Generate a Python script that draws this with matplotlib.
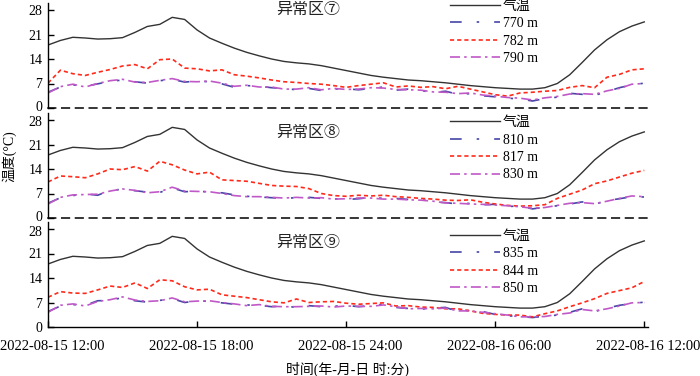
import numpy as np
import matplotlib
matplotlib.use("Agg")
import matplotlib.pyplot as plt
import matplotlib.transforms as mtransforms

plt.rcParams['font.family'] = ['Liberation Serif', 'Noto Sans CJK SC']
plt.rcParams['axes.unicode_minus'] = False

# time in hours since 2022-08-15 12:00, 30-min sampling
hours = np.arange(0, 24.01, 0.5)
tick_hours = [0, 6, 12, 18, 24]
tick_labels = ["2022-08-15 12:00", "2022-08-15 18:00", "2022-08-15 24:00",
               "2022-08-16 06:00", "2022-08-16 12:00"]

air_temp = [18.0, 19.3, 20.2, 20.0, 19.7, 19.8, 20.1, 21.6, 23.3, 23.9,
            25.9, 25.3, 22.3, 20.0, 18.5, 17.1, 15.9, 14.9, 14.0, 13.3,
            12.9, 12.6, 12.1, 11.4, 10.7, 10.0, 9.3, 8.8, 8.4, 8.0,
            7.8, 7.5, 7.2, 6.8, 6.4, 6.1, 5.8, 5.6, 5.4, 5.4,
            5.8, 7.0, 9.5, 13.0, 16.6, 19.5, 21.8, 23.4, 24.6]

# zone 7
z7_770 = [4.5, 6.0, 6.6, 6.2, 6.9, 7.6, 8.0, 7.5, 7.1, 7.8, 8.2, 7.4, 7.7, 7.5, 6.9,
          5.9, 6.4, 6.2, 5.8, 5.6, 5.2, 5.6, 5.0, 5.4, 5.5, 5.2, 5.6, 6.0, 5.1, 5.4,
          5.0, 4.4, 4.8, 3.9, 4.1, 3.5, 3.2, 2.8, 2.6, 2.0, 2.7, 3.1, 4.2, 3.9, 3.6,
          4.7, 5.8, 6.6, 7.1]
z7_782 = [7.1, 10.8, 9.8, 9.3, 10.2, 11.0, 12.0, 12.4, 11.2, 13.8, 14.0, 11.4, 11.2, 10.6, 10.9,
          9.5, 9.1, 8.6, 8.0, 7.5, 7.3, 7.0, 6.8, 6.4, 5.9, 6.4, 6.8, 7.2, 6.0, 6.3,
          5.9, 6.1, 5.5, 6.2, 5.4, 4.6, 3.8, 3.4, 4.3, 4.5, 4.8, 5.0, 5.9, 6.4, 5.8,
          8.8, 9.6, 10.9, 11.2]
z7_790 = [4.3, 6.1, 6.8, 6.0, 7.0, 7.8, 8.2, 7.4, 7.3, 7.9, 8.4, 7.6, 7.5, 7.7, 7.1,
          6.2, 6.5, 6.0, 6.0, 5.4, 5.4, 5.8, 5.2, 5.6, 5.3, 5.4, 5.8, 5.7, 5.3, 5.2,
          5.1, 4.6, 4.5, 4.1, 4.3, 3.7, 3.4, 3.0, 2.8, 2.3, 2.9, 3.3, 4.0, 4.1, 3.9,
          4.9, 5.6, 6.8, 7.0]

# zone 8
z8_810 = [4.2, 5.8, 6.4, 6.9, 6.5, 7.9, 8.2, 7.8, 7.4, 7.3, 8.6, 7.5, 7.7, 7.4, 7.2,
          6.6, 6.2, 6.0, 5.8, 5.6, 5.8, 5.9, 5.6, 5.5, 5.3, 5.5, 5.9, 5.6, 5.6, 5.3,
          5.3, 4.6, 4.4, 4.0, 4.2, 3.8, 3.9, 3.3, 3.4, 2.6, 3.1, 3.5, 4.0, 4.6, 3.9,
          5.0, 5.5, 6.1, 6.0]
z8_817 = [10.3, 12.0, 11.8, 11.5, 12.6, 14.0, 13.8, 14.7, 13.4, 16.2, 15.2, 13.7, 12.6, 13.1, 10.9,
          10.7, 10.5, 9.9, 9.3, 9.1, 9.0, 8.4, 7.0, 6.4, 6.2, 6.5, 6.3, 6.5, 6.1, 5.9,
          5.6, 5.4, 5.1, 5.0, 5.2, 4.5, 4.0, 3.6, 3.4, 3.5, 3.8, 5.6, 6.8, 8.0, 9.8,
          10.6, 11.7, 12.8, 13.6]
z8_830 = [4.0, 5.9, 6.6, 6.7, 6.8, 7.7, 8.3, 7.9, 7.2, 7.5, 8.8, 7.7, 7.6, 7.5, 7.0,
          6.4, 6.1, 6.1, 5.9, 5.7, 5.9, 5.7, 5.8, 5.4, 5.5, 5.7, 5.7, 5.4, 5.4, 5.2,
          5.1, 4.8, 4.3, 4.2, 4.0, 3.9, 3.7, 3.5, 3.2, 2.8, 3.0, 3.6, 4.2, 4.4, 4.1,
          4.8, 5.6, 6.3, 6.1]

# zone 9
z9_835 = [4.4, 6.0, 6.4, 6.2, 7.5, 7.6, 8.4, 7.5, 7.1, 7.6, 8.1, 7.0, 7.5, 7.3, 6.9,
          6.5, 6.3, 6.2, 5.8, 6.0, 5.6, 6.1, 5.8, 5.9, 6.2, 5.8, 6.1, 6.5, 5.6, 5.3,
          5.1, 5.4, 5.6, 4.4, 4.8, 4.4, 3.6, 3.2, 3.0, 2.7, 3.1, 3.4, 4.2, 5.2, 4.4,
          5.4, 6.2, 6.7, 7.1]
z9_844 = [8.5, 10.1, 9.7, 9.6, 10.6, 11.7, 11.3, 12.6, 11.0, 13.5, 13.2, 11.5, 10.6, 10.8, 9.2,
          8.8, 8.4, 7.8, 7.2, 6.9, 8.0, 7.0, 7.2, 7.3, 6.8, 6.5, 6.7, 6.9, 6.0, 6.1,
          5.7, 5.6, 5.2, 5.2, 4.6, 3.9, 3.6, 3.4, 3.4, 2.9, 3.8, 4.6, 5.8, 6.9, 8.1,
          9.6, 10.4, 11.2, 13.0]
z9_850 = [4.2, 6.2, 6.6, 6.0, 7.3, 7.8, 8.6, 7.7, 7.3, 7.5, 8.3, 7.2, 7.4, 7.5, 7.0,
          6.6, 6.1, 6.4, 5.9, 5.8, 5.8, 5.9, 6.0, 5.7, 6.0, 5.9, 5.9, 6.3, 5.8, 5.2,
          5.3, 5.2, 5.4, 4.6, 4.6, 4.2, 3.8, 3.4, 2.9, 2.9, 3.0, 3.6, 4.0, 5.0, 4.6,
          5.2, 6.0, 6.9, 7.0]

panels = [
    ("异常区⑦", ["770 m", "782 m", "790 m"], [z7_770, z7_782, z7_790]),
    ("异常区⑧", ["810 m", "817 m", "830 m"], [z8_810, z8_817, z8_830]),
    ("异常区⑨", ["835 m", "844 m", "850 m"], [z9_835, z9_844, z9_850]),
]

W, H = 700, 376
fig = plt.figure(figsize=(7.0, 3.76), dpi=100)

ax_left = 48 / W
ax_w = 600 / W
bottoms_px = [108, 218, 327]
ax_h_px = 105
legend_top = [1.03, 0.97, 0.925]
title_y = [0.93, 0.81, 0.80]

styles = [
    dict(color="#4646a6", lw=1.2, dashes=(7, 9, 1.5, 9)),
    dict(color="#ff2a1a", lw=1.2, dashes=(2.5, 1.8)),
    dict(color="#c058c8", lw=1.2, dashes=(6, 2.5, 1.5, 2.5)),
]

up = mtransforms.ScaledTranslation(0, 2 / 100, fig.dpi_scale_trans)
down = mtransforms.ScaledTranslation(0, -1.5 / 100, fig.dpi_scale_trans)

for i, (title, labels, series) in enumerate(panels):
    b = (H - bottoms_px[i]) / H
    ax = fig.add_axes([ax_left, b, ax_w, ax_h_px / H])
    ax.plot(hours, air_temp, color="#333333", lw=1.0, label="气温")
    for s, lab, st in zip(series, labels, styles):
        ax.plot(hours, s, label=lab, **st)
    ax.set_xlim(0, 24.15)
    ax.set_ylim(0, 30)
    ax.set_yticks([0, 7, 14, 21, 28])
    ax.spines['top'].set_visible(False)
    ax.spines['right'].set_visible(False)
    ax.spines['left'].set_linewidth(1.0)
    ax.tick_params(axis='y', direction='in', length=4, width=1.0, labelsize=10, pad=4)
    ylbls = ax.get_yticklabels()
    if i < 2:
        ylbls[0].set_transform(ylbls[0].get_transform() + up)
    if i > 0:
        ylbls[-1].set_transform(ylbls[-1].get_transform() + down)
    if i < 2:
        ax.spines['bottom'].set_linestyle((0, (5, 4)))
        ax.spines['bottom'].set_linewidth(1.1)
        ax.set_xticks([])
    else:
        ax.spines['bottom'].set_linewidth(1.0)
        ax.set_xticks(tick_hours)
        ax.set_xticklabels(tick_labels)
        ax.tick_params(axis='x', direction='in', length=4, width=1.0, labelsize=10.5, pad=9)
        offset = mtransforms.ScaledTranslation(4 / 100, 0, fig.dpi_scale_trans)
        for lbl in ax.get_xticklabels():
            lbl.set_transform(lbl.get_transform() + offset)
    ax.patch.set_alpha(0)
    ax.text(0.433, title_y[i], title, transform=ax.transAxes, ha='center', va='center',
            fontsize=11.5, color="#222222")
    ax.legend(loc='upper left', bbox_to_anchor=(0.67, legend_top[i]), frameon=False,
              fontsize=10, handlelength=3.6, handletextpad=0.2, labelspacing=0.32,
              borderpad=0, borderaxespad=0)

fig.text(9 / W, (H - 156) / H, "温度(°C)", rotation=90, ha='center', va='center', fontsize=10)
fig.text(347 / W, (H - 369) / H, "时间(年-月-日 时:分)", ha='center', va='center', fontsize=10)

fig.savefig("out.png", dpi=100)
